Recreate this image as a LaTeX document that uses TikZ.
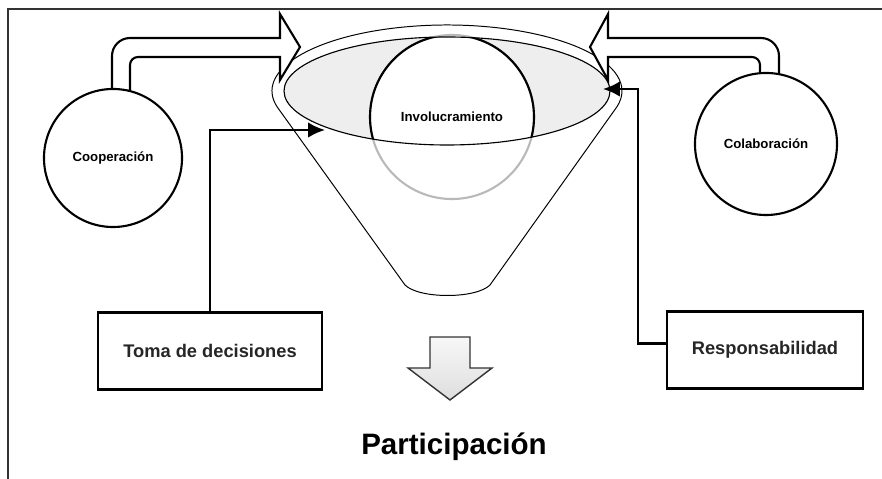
\documentclass[tikz,border=0pt]{standalone}
\usepackage{fontspec}
\setmainfont{Liberation Sans}
\usetikzlibrary{arrows.meta}

\begin{document}
\begin{tikzpicture}[x=0.025cm,y=0.025cm,
	bubble/.style={circle, draw, line width=1.5pt, fill=white, font=\bfseries\fontsize{9.4}{11}\selectfont},
	box/.style={rectangle, draw, line width=1.6pt, fill=white, minimum height=1.925cm, font=\bfseries\fontsize{13}{15}\selectfont, text=black!85},
	bent/.style={draw, line width=1.5pt, fill=white, line join=miter},
	conn/.style={line width=1.6pt, -{Latex[length=12pt,width=11pt]}}]
	\useasboundingbox (0,0) rectangle (882,479);

	% frame
	\draw [black!80, line width=0.8pt] (882,470) -- (8,470) -- (8,0);

	% funnel
	\draw [line width=0.7pt] (447,388) ++(194:175 and 66)
							arc [start angle=194, end angle=-14, x radius=175, y radius=66] --
							(490,194) .. controls (476,180) and (419,180) .. (405,194) -- cycle;

	\fill [gray!13] (447,388) ellipse [x radius=163, y radius=54];
	\node [bubble, draw=gray!55, minimum size=4.1cm] (inv) at (452,362) {Involucramiento};
	\begin{scope}
		\clip (447,388) ellipse [x radius=163, y radius=54];
		\draw [line width=1.5pt] (inv.center) circle [radius=82];
	\end{scope}
	\draw [line width=0.8pt] (447,388) ellipse [x radius=163, y radius=54];

	% bent arrows
	\draw [bent] (112,388) -- (112,423) arc [start angle=180, end angle=90, radius=18] --
					(280,441) -- (280,465) -- (300,432) -- (280,399) -- (280,422) --
					(138,422) arc [start angle=90, end angle=180, radius=8] -- (130,388) -- cycle;
	\draw [bent] (779,387) -- (779,423) arc [start angle=0, end angle=90, radius=18] --
					(608,441) -- (608,465) -- (590,432) -- (608,399) -- (608,422) --
					(752,422) arc [start angle=90, end angle=0, radius=8] -- (760,387) -- cycle;

	\node [bubble, minimum size=3.45cm] (coop) at (113,321) {Cooperación};
	\node [bubble, minimum size=3.55cm] (colab) at (766,335) {Colaboración};

	% boxes
	\node [box, minimum width=5.6cm] (toma) at (210,128) {Toma de decisiones};
	\node [box, minimum width=4.9cm] (resp) at (765,129) {Responsabilidad};

	\coordinate (tipL) at (325,349);
	\coordinate (tipR) at (603,390);
	\draw [conn] (toma.north) |- (tipL);
	\draw [conn] ([yshift=0.16cm]resp.west) -- ++(-28,0) |- (tipR);

	% result
	\draw [black!80, line width=1pt, line join=miter, top color=gray!6, bottom color=gray!26]
			(430,142) -- (470,142) -- (470,111) -- (492,111) --
			(450,79) -- (408,111) -- (430,111) -- cycle;
	\node [font=\bfseries\fontsize{21}{25}\selectfont] (part) at (454,32) {Participación};

\end{tikzpicture}
\end{document}
